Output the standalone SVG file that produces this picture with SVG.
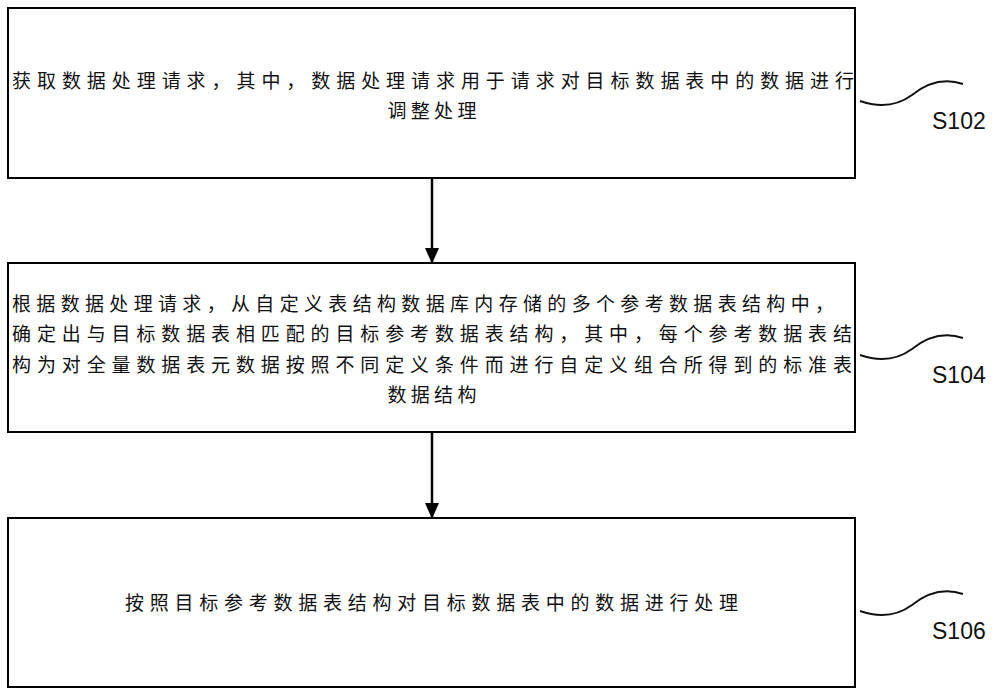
<svg xmlns="http://www.w3.org/2000/svg" width="1000" height="695" viewBox="0 0 1000 695">
<defs>
<style>
.box{fill:#fff;stroke:#000;stroke-width:2}
.t{font-family:"Noto Sans CJK SC","Noto Sans",sans-serif;font-size:19px;fill:#111}
.lbl{font-family:"Liberation Sans",Arial,sans-serif;font-size:23px;fill:#111}
.sq{fill:none;stroke:#111;stroke-width:2}
.ar{stroke:#000;stroke-width:2.5}
</style>
<marker id="ah" markerWidth="16" markerHeight="18" refX="16" refY="8" orient="auto" markerUnits="userSpaceOnUse" viewBox="0 0 18 16"><path d="M0,0 L18,8 L0,16 Z" fill="#000"/></marker>
</defs>
<rect width="1000" height="695" fill="#fff"/>
<g id="n1">
<rect class="box" x="8" y="8" width="847" height="170"/>
<text class="t" x="12" y="88" textLength="842" lengthAdjust="spacing">获取数据处理请求，其中，数据处理请求用于请求对目标数据表中的数据进行</text>
<text class="t" x="432" y="118" text-anchor="middle">调 整 处 理</text>
</g>
<g id="n2">
<rect class="box" x="8" y="263" width="847" height="169"/>
<text class="t" x="12" y="311" textLength="822" lengthAdjust="spacing">根据数据处理请求，从自定义表结构数据库内存储的多个参考数据表结构中，</text>
<text class="t" x="12" y="341" textLength="840" lengthAdjust="spacing">确定出与目标数据表相匹配的目标参考数据表结构，其中，每个参考数据表结</text>
<text class="t" x="12" y="372" textLength="840" lengthAdjust="spacing">构为对全量数据表元数据按照不同定义条件而进行自定义组合所得到的标准表</text>
<text class="t" x="432" y="402" text-anchor="middle">数 据 结 构</text>
</g>
<g id="n3">
<rect class="box" x="8" y="518" width="847" height="169"/>
<text class="t" x="125" y="610" textLength="613" lengthAdjust="spacing">按照目标参考数据表结构对目标数据表中的数据进行处理</text>
</g>
<g id="connectors">
<line class="ar" x1="432" y1="178" x2="432" y2="262" marker-end="url(#ah)"/>
<line class="ar" x1="432" y1="432" x2="432" y2="517" marker-end="url(#ah)"/>
<path class="sq" d="M860,101 C880,108 897,106 912,95 C927,83 945,78 963,84"/>
<path class="sq" d="M860,355 C880,362 897,360 912,349 C927,337 945,332 963,338"/>
<path class="sq" d="M860,611 C880,618 897,616 912,605 C927,593 945,588 963,594"/>
</g>
<g id="labels">
<text class="lbl" x="932" y="129">S102</text>
<text class="lbl" x="932" y="383">S104</text>
<text class="lbl" x="932" y="639">S106</text>
</g>
</svg>
